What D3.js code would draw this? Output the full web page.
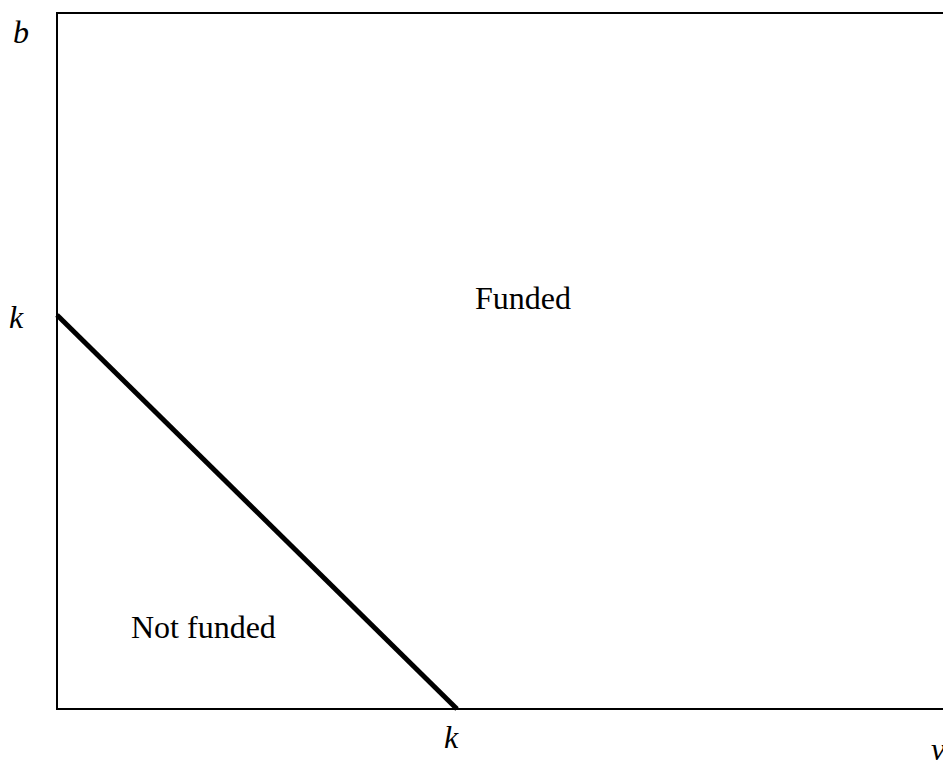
<!DOCTYPE html>
<html>
<head>
<meta charset="utf-8">
<script src="https://cdn.jsdelivr.net/npm/d3@7"></script>
<style>
  html, body { margin: 0; padding: 0; background: #fff; overflow: hidden; }
  svg text { font-family: "Liberation Serif", Tinos, "Times New Roman", serif; fill: #000; }
</style>
</head>
<body>
<div id="chart"></div>
<script>
// threshold line: funded when v + b >= k (k = 1)
var boundaryV = [0, 1];
var boundaryB = [1, 0];
var regionNames = ["Funded", "Not funded"];
var regionV = [1.045, 0.185];
var regionB = [1.015, 0.18];
var xTickLabels = ["k"];
var yTickLabels = ["k"];
var axisNames = ["v", "b"];

var width = 943, height = 760;
var svg = d3.select("#chart").append("svg")
    .attr("width", width)
    .attr("height", height);

// scales picked so that k sits where it sits in the picture
var x = d3.scaleLinear().domain([0, 1]).range([57, 457]);
var y = d3.scaleLinear().domain([0, 1]).range([709, 315]);

var xMax = x.invert(960), yMax = y.invert(13);

// frame (right side runs off the page)
svg.append("path")
    .attr("d", "M" + x(xMax) + "," + y(yMax) + "H" + x(0) + "V" + y(0) + "H" + x(xMax))
    .attr("fill", "none")
    .attr("stroke", "#000")
    .attr("stroke-width", 2);

// the boundary
var pts = boundaryV.map(function (v, i) { return [v, boundaryB[i]]; });
svg.append("path")
    .datum(pts)
    .attr("d", d3.line().x(function (d) { return x(d[0]); }).y(function (d) { return y(d[1]); }))
    .attr("fill", "none")
    .attr("stroke", "#000")
    .attr("stroke-width", 5);

function label(px, py, txt, italic, anchor) {
    svg.append("text")
        .attr("x", px).attr("y", py)
        .attr("text-anchor", anchor || "start")
        .attr("font-style", italic ? "italic" : "normal")
        .attr("font-size", 32)
        .text(txt);
}

// tick labels
label(x(1) - 6, 748, xTickLabels[0], true, "middle");
label(16, y(1) + 13, yTickLabels[0], true, "middle");

// axis names (v runs off the bottom like in the original)
label(931, 760, axisNames[0], true);
label(13, 43, axisNames[1], true);

// region labels
regionNames.forEach(function (name, i) {
    label(x(regionV[i]), y(regionB[i]), name, false);
});
</script>
</body>
</html>
